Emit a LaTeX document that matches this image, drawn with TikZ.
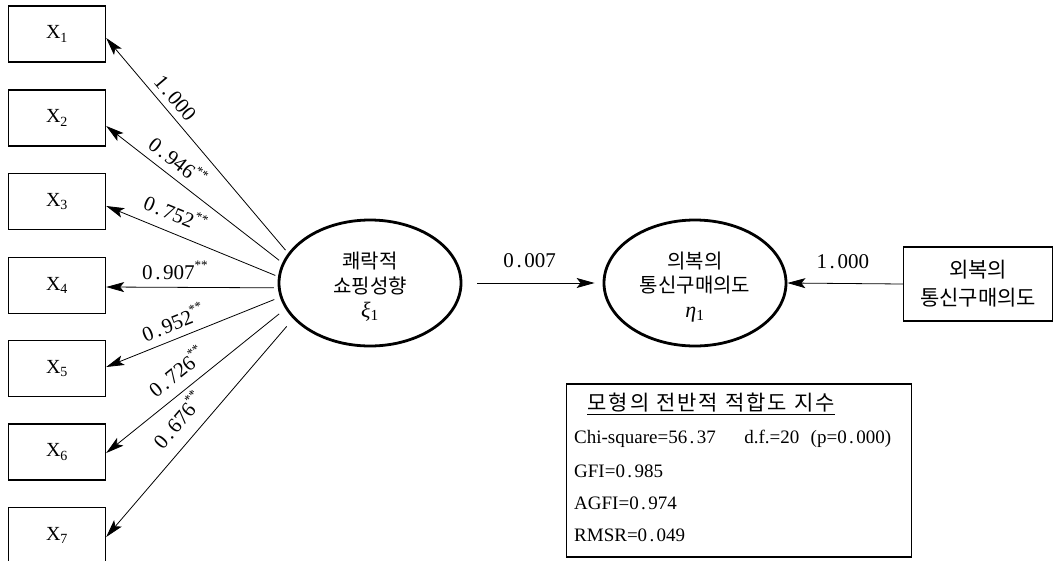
\documentclass[tikz,border=0pt]{standalone}
\usepackage{fontspec}
\setmainfont{Liberation Serif}
\newfontfamily\kr{Noto Sans CJK KR}
\newfontfamily\grk{Liberation Serif}
\newfontfamily\krt[LetterSpace=10]{Noto Sans CJK KR}
\usetikzlibrary{arrows.meta,shapes.geometric}
\newcommand{\sd}{\makebox[0.5em]{.}}
\newcommand{\sst}{\raisebox{0.45em}{\fontsize{13}{13}\selectfont**}}
\newcommand{\grsym}[1]{{\grk\itshape\fontsize{22}{24}\selectfont #1\textsubscript{\upshape 1}}}
\begin{document}
\begin{tikzpicture}[x=1pt,y=-1pt,
  obs/.style={draw, line width=1.4pt, minimum width=97pt, minimum height=56pt, inner sep=0pt, font=\fontsize{20}{22}\selectfont},
  lat/.style={draw, ellipse, line width=2.8pt, minimum width=182pt, minimum height=126pt, inner sep=0pt},
  lattxt/.style={align=center, inner sep=0pt, font=\kr\fontsize{20}{24.5}\selectfont},
  arr/.style={line width=0.8pt, -{Stealth[length=18pt,width=10pt,inset=4pt]}},
  coef/.style={font=\fontsize{21}{24}\selectfont, inner sep=0pt, sloped, anchor=center},
  fittxt/.style={font=\fontsize{19}{21}\selectfont, inner sep=0pt, anchor=west},
]
\useasboundingbox (0,0) rectangle (1060,560);

% observed variables
\node[obs] (x1) at (57,34)    {X\textsubscript{1}};
\node[obs] (x2) at (57,118)   {X\textsubscript{2}};
\node[obs] (x3) at (57,201.5) {X\textsubscript{3}};
\node[obs] (x4) at (57,285.5) {X\textsubscript{4}};
\node[obs] (x5) at (57,368.5) {X\textsubscript{5}};
\node[obs] (x6) at (57,452)   {X\textsubscript{6}};
\node[obs] (x7) at (57,535.5) {X\textsubscript{7}};

% latent variables
\node[lat] (e1) at (370,283) {};
\node[lat] (e2) at (695,283) {};
\node[lattxt] (t1) at (370,287) {쾌락적\\쇼핑성향\\\grsym{ξ}};
\node[lattxt] (t2) at (695,287) {의복의\\통신구매의도\\\grsym{η}};

% indicator box
\node[draw, line width=1.4pt, minimum width=149pt, minimum height=74pt, inner sep=0pt, align=center,
      font=\kr\fontsize{21}{28}\selectfont] (b) at (978,284) {외복의\\통신구매의도};

% loadings
\draw[arr, shorten <=4pt] (e1.160) -- ([yshift=-4pt]x1.east)
  node[coef, pos=0.68, yshift=14pt] {1\sd000};
\draw[arr, shorten <=4pt] (e1.167) -- ([yshift=-8pt]x2.east)
  node[coef, pos=0.65, yshift=17pt] {0\sd946\sst};
\draw[arr, shorten <=3pt] (e1.176) -- ([yshift=-4.5pt]x3.east)
  node[coef, pos=0.64, yshift=20pt] {0\sd752\sst};
\draw[arr, shorten <=4pt] (e1.183) -- ([yshift=-1.5pt]x4.east)
  node[coef, pos=0.60, yshift=17pt] {0\sd907\sst};
\draw[arr, shorten <=6pt] (e1.189) -- ([yshift=1.5pt]x5.east)
  node[coef, pos=0.58, yshift=17pt] {0\sd952\sst};
\draw[arr, shorten <=8pt] (e1.197) -- ([yshift=-1pt]x6.east)
  node[coef, pos=0.54, yshift=20pt] {0\sd726\sst};
\draw[arr, shorten <=10pt] (e1.205) -- ([yshift=-1.5pt]x7.east)
  node[coef, pos=0.53, yshift=22pt] {0\sd676\sst};

% structural paths
\draw[arr, shorten <=15pt, shorten >=8pt] (e1.east) -- (e2.west)
  node[pos=0.48, yshift=22pt, font=\fontsize{21}{24}\selectfont, inner sep=0pt] {0\sd007};
\draw[arr] (b.west) -- (e2.east)
  node[pos=0.52, yshift=22pt, font=\fontsize{21}{24}\selectfont, inner sep=0pt] {1\sd000};

% fit index box
\node[draw, line width=1.2pt, minimum width=345pt, minimum height=173pt, inner sep=0pt] (fit) at (739,470.5) {};
\node[inner sep=0pt, font=\krt\fontsize{21}{24}\selectfont] (ft) at (711,404) {\underline{모형의 전반적 적합도 지수}};
\node[fittxt] (f1) at (574,439) {Chi-square=56\sd37\hspace{1.5em}d.f.=20\hspace{0.6em}(p=0\sd000)};
\node[fittxt] (f2) at (574,471) {GFI=0\sd985};
\node[fittxt] (f3) at (574,503) {AGFI=0\sd974};
\node[fittxt] (f4) at (574,535) {RMSR=0\sd049};
\end{tikzpicture}
\end{document}
